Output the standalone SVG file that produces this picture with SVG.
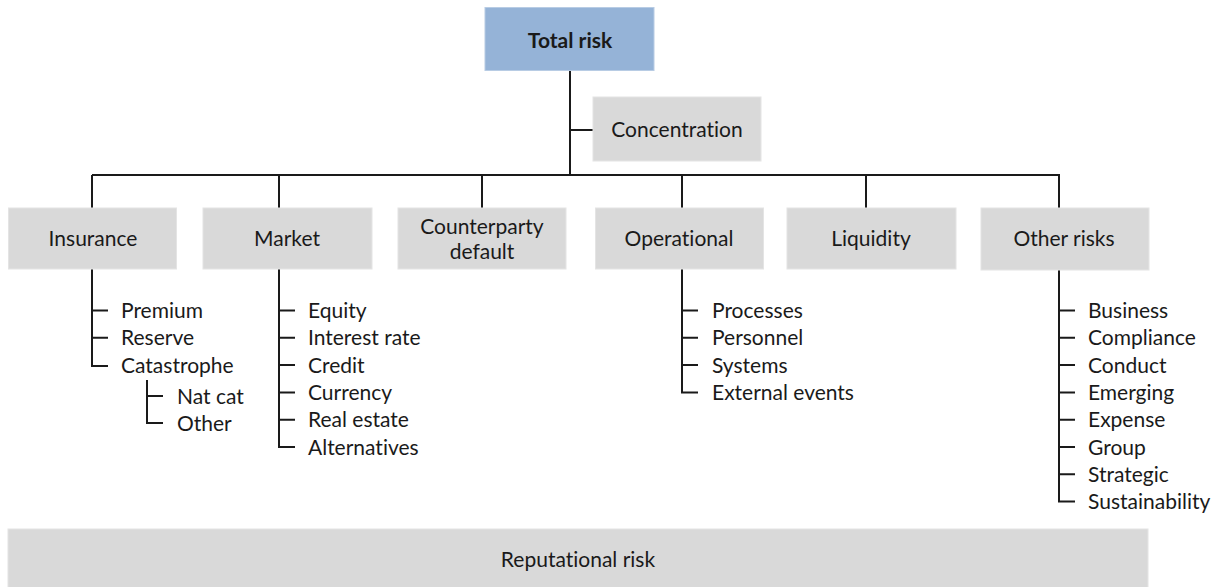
<svg xmlns="http://www.w3.org/2000/svg" width="1219" height="587" viewBox="0 0 1219 587">
<style>
.box{fill:#d9d9d9;stroke:#e4e4e4;stroke-width:1}
.top{fill:#95b3d7;stroke:#b8cce4;stroke-width:1}
.t{font-family:Lato,"Liberation Sans",sans-serif;font-size:21px;fill:#1a1a1a;text-anchor:middle;font-variant-ligatures:none}
.s{font-family:Lato,"Liberation Sans",sans-serif;font-size:21px;fill:#1a1a1a;font-variant-ligatures:none}
.b{font-weight:bold}
.ln{stroke:#1a1a1a;stroke-width:2;fill:none}
</style>
<rect width="1219" height="587" fill="#ffffff"/>
<g id="connectors" class="ln">
<path d="M570 71V175M570 130H593M92 175H1060M92 175V208M279 175V208M482 175V208M682 175V208M866 175V208M1059 175V208"/>
<path d="M92 269V366H108M92 310.5H108M92 337.8H108"/>
<path d="M147 380V423H163M147 396H163"/>
<path d="M279 269V447H295M279 310.5H295M279 337.8H295M279 365.1H295M279 392.4H295M279 419.7H295"/>
<path d="M682 269V392.4H698M682 310.5H698M682 337.8H698M682 365.1H698"/>
<path d="M1059 270V501.6H1075M1059 310.5H1075M1059 337.8H1075M1059 365.1H1075M1059 392.4H1075M1059 419.7H1075M1059 447H1075M1059 474.3H1075"/>
</g>
<g id="total-risk"><rect class="top" x="485" y="7.5" width="169" height="63"/><text class="t b" x="570" y="47.5">Total risk</text></g>
<g id="concentration"><rect class="box" x="593" y="97" width="168" height="64"/><text class="t" x="677" y="137">Concentration</text></g>
<g id="insurance"><rect class="box" x="8.5" y="208" width="168" height="61"/><text class="t" x="93" y="246">Insurance</text>
<text class="s" x="121" y="318">Premium</text><text class="s" x="121" y="345.3">Reserve</text><text class="s" x="121" y="372.6">Catastrophe</text>
<text class="s" x="177" y="403.5">Nat cat</text><text class="s" x="177" y="430.5">Other</text></g>
<g id="market"><rect class="box" x="203" y="208" width="169" height="61"/><text class="t" x="287" y="246">Market</text>
<text class="s" x="308" y="318">Equity</text><text class="s" x="308" y="345.3">Interest rate</text><text class="s" x="308" y="372.6">Credit</text><text class="s" x="308" y="399.9">Currency</text><text class="s" x="308" y="427.2">Real estate</text><text class="s" x="308" y="454.5">Alternatives</text></g>
<g id="counterparty-default"><rect class="box" x="398" y="208" width="168" height="61"/><text class="t" x="482" y="234">Counterparty</text><text class="t" x="482" y="259">default</text></g>
<g id="operational"><rect class="box" x="595.5" y="208" width="168" height="61"/><text class="t" x="679" y="246">Operational</text>
<text class="s" x="712" y="318">Processes</text><text class="s" x="712" y="345.3">Personnel</text><text class="s" x="712" y="372.6">Systems</text><text class="s" x="712" y="399.9">External events</text></g>
<g id="liquidity"><rect class="box" x="787" y="208" width="169" height="61"/><text class="t" x="871" y="246">Liquidity</text></g>
<g id="other-risks"><rect class="box" x="981" y="208" width="168" height="62"/><text class="t" x="1064" y="246">Other risks</text>
<text class="s" x="1088" y="318">Business</text><text class="s" x="1088" y="345.3">Compliance</text><text class="s" x="1088" y="372.6">Conduct</text><text class="s" x="1088" y="399.9">Emerging</text><text class="s" x="1088" y="427.2">Expense</text><text class="s" x="1088" y="454.5">Group</text><text class="s" x="1088" y="481.8">Strategic</text><text class="s" x="1088" y="509.1">Sustainability</text></g>
<g id="reputational-risk"><rect class="box" x="8" y="529" width="1140" height="62"/><text class="t" x="578" y="567">Reputational risk</text></g>
</svg>
